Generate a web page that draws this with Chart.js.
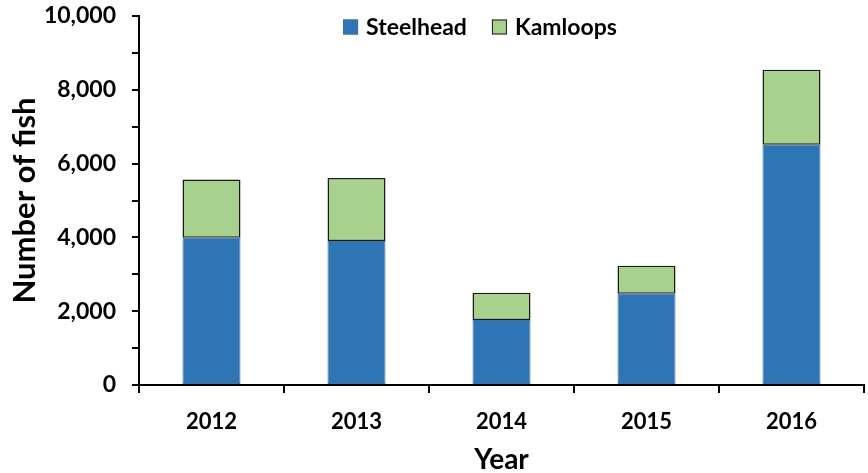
<!DOCTYPE html>
<html>
<head>
<meta charset="utf-8">
<script src="https://cdn.jsdelivr.net/npm/chart.js@4.4.1/dist/chart.umd.min.js"></script>
<style>
  html, body { margin: 0; padding: 0; background: #fff; }
  #wrap { width: 868px; height: 473px; position: relative; }
</style>
</head>
<body>
<div id="wrap"><canvas id="fishChart" width="868" height="473"></canvas></div>
<script>
// fish counts per year, stacked
const years = ["2012", "2013", "2014", "2015", "2016"];
const steelhead = [3990, 3900, 1760, 2470, 6510];
const kamloops = [1580, 1710, 740, 760, 2030];
const yTicks = [0, 2000, 4000, 6000, 8000, 10000];

const FONT = "Lato, 'Open Sans', sans-serif";

// legend sits inside the plot area at the top, so draw it by hand
const innerLegend = {
  id: "innerLegend",
  afterDraw(chart) {
    const ctx = chart.ctx;
    const sets = chart.data.datasets;
    ctx.save();
    ctx.font = "bold 23px " + FONT;
    ctx.textBaseline = "middle";
    const box = 15, gap = 8, spacing = 25;
    let widths = sets.map(d => box + gap + ctx.measureText(d.label).width);
    let total = widths.reduce((a, b) => a + b, 0) + spacing * (sets.length - 1);
    let x = 480 - total / 2;
    const y = 27;
    sets.forEach((d, i) => {
      ctx.fillStyle = d.backgroundColor;
      ctx.fillRect(x, y - box / 2, box, box);
      ctx.lineWidth = 1;
      ctx.strokeStyle = d.legendBorder;
      ctx.strokeRect(x + 0.5, y - box / 2 + 0.5, box - 1, box - 1);
      ctx.fillStyle = "#000";
      ctx.fillText(d.label, x + box + gap, y + 1);
      x += widths[i] + spacing;
    });
    ctx.restore();
  }
};

new Chart(document.getElementById("fishChart"), {
  type: "bar",
  data: {
    labels: years,
    datasets: [
      {
        label: "Steelhead",
        data: steelhead,
        backgroundColor: "#2E75B6",
        borderColor: "#41719C",
        legendBorder: "#41719C",
        borderWidth: 1,
        borderSkipped: false,
        barPercentage: 0.4,
        categoryPercentage: 1
      },
      {
        label: "Kamloops",
        data: kamloops,
        backgroundColor: "#A9D18E",
        borderColor: "#1a1a1a",
        legendBorder: "#1a1a1a",
        borderWidth: 1.5,
        borderSkipped: false,
        barPercentage: 0.4,
        categoryPercentage: 1
      }
    ]
  },
  options: {
    responsive: false,
    animation: false,
    devicePixelRatio: 1,
    layout: { padding: { top: 16, right: 4, left: 0, bottom: 0 } },
    plugins: {
      legend: { display: false },
      tooltip: { enabled: false }
    },
    scales: {
      x: {
        stacked: true,
        border: { display: true, color: "#000", width: 2 },
        grid: {
          display: true,
          offset: true,
          drawOnChartArea: false,
          drawTicks: true,
          tickLength: 8,
          color: "#000",
          lineWidth: 2
        },
        ticks: {
          color: "#000",
          padding: 16,
          font: { family: FONT, size: 22, weight: "bold" }
        },
        title: {
          display: true,
          text: "Year",
          color: "#000",
          padding: { top: 4, bottom: -4 },
          font: { family: FONT, size: 28, weight: "bold" }
        },
        afterFit(scale) {
          scale.height = 88;
          scale.paddingLeft = 0;
          scale.paddingRight = 0;
        }
      },
      y: {
        stacked: true,
        min: 0,
        max: 10000,
        border: { display: true, color: "#000", width: 2 },
        grid: {
          display: true,
          drawOnChartArea: false,
          drawTicks: true,
          tickLength: 7,
          color: "#000",
          lineWidth: 2
        },
        ticks: {
          stepSize: 1000,
          color: "#000",
          padding: 16,
          font: { family: FONT, size: 23, weight: "bold" },
          callback: v => yTicks.includes(v) ? v.toLocaleString("en-US") : ""
        },
        title: {
          display: true,
          text: "Number of fish",
          color: "#000",
          padding: { top: 6, bottom: 4 },
          font: { family: FONT, size: 31, weight: "bold" }
        },
        afterFit(scale) {
          scale.width = 139;
          scale.paddingTop = 0;
          scale.paddingBottom = 0;
        }
      }
    }
  },
  plugins: [innerLegend]
});
</script>
</body>
</html>
